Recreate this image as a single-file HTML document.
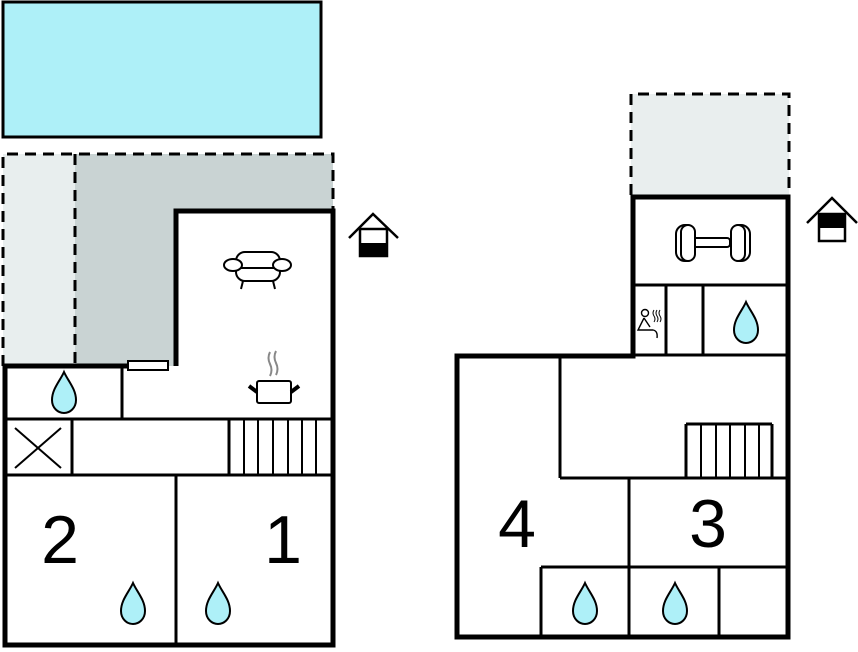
<!DOCTYPE html>
<html><head><style>html,body{margin:0;padding:0;background:#fff}svg{display:block}</style></head><body>
<svg width="858" height="652" viewBox="0 0 858 652" xmlns="http://www.w3.org/2000/svg" font-family="Liberation Sans, Arial, sans-serif">
<defs>
<path id="drop" d="M0,-21 C4,-12 12,-4 12,7 C12,15 6,20 0,20 C-6,20 -12,15 -12,7 C-12,-4 -4,-12 0,-21 Z" fill="#aef0f8" stroke="#000" stroke-width="2"/>
</defs>
<rect x="3" y="2" width="318" height="135" fill="#aef0f8" stroke="#000" stroke-width="3"/>
<rect x="3" y="154" width="72" height="212" fill="#e8eeee"/>
<path d="M75,154 H333 V211 H176 V366 H75 Z" fill="#c9d3d3"/>
<path d="M3,366 V154 H333 V211" fill="none" stroke="#000" stroke-width="3" stroke-dasharray="11,7"/>
<line x1="75" y1="154" x2="75" y2="366" stroke="#000" stroke-width="3" stroke-dasharray="11,7"/>
<path d="M176,366 V211 H333 V645 H5 V366 H128" fill="none" stroke="#000" stroke-width="5"/>
<rect x="128" y="361" width="40" height="9" fill="#fff" stroke="#000" stroke-width="2"/>
<g stroke="#000" stroke-width="3" fill="none">
<line x1="122" y1="366" x2="122" y2="419"/>
<line x1="5" y1="419" x2="333" y2="419"/>
<line x1="5" y1="475" x2="333" y2="475"/>
<line x1="72" y1="419" x2="72" y2="475"/>
<line x1="176" y1="475" x2="176" y2="645"/>
<line x1="15" y1="428" x2="61" y2="468" stroke-width="2"/>
<line x1="61" y1="428" x2="15" y2="468" stroke-width="2"/>
<line x1="229" y1="419" x2="229" y2="475"/>
</g>
<g stroke="#000" stroke-width="2">
<line x1="244" y1="419" x2="244" y2="475"/><line x1="258" y1="419" x2="258" y2="475"/>
<line x1="273" y1="419" x2="273" y2="475"/><line x1="288" y1="419" x2="288" y2="475"/>
<line x1="302" y1="419" x2="302" y2="475"/><line x1="316" y1="419" x2="316" y2="475"/>
</g>
<use href="#drop" x="64" y="393"/>
<use href="#drop" x="133" y="604"/>
<use href="#drop" x="218" y="604"/>
<text x="60" y="563" font-size="68" text-anchor="middle">2</text>
<text x="283" y="563" font-size="68" text-anchor="middle">1</text>
<g stroke="#000" stroke-width="2" fill="#fff">
<rect x="236" y="252" width="44" height="29" rx="9"/>
<line x1="236" y1="268" x2="280" y2="268"/>
<ellipse cx="233" cy="265" rx="9" ry="6"/>
<ellipse cx="282" cy="265" rx="9" ry="6"/>
<line x1="243" y1="281" x2="241" y2="289"/><line x1="273" y1="281" x2="275" y2="289"/>
</g>
<g fill="none">
<path d="M270,352 q-3,6 0,12 q3,6 0,12" stroke="#888" stroke-width="2"/>
<path d="M276,351 q-3,6 0,12 q3,6 0,12" stroke="#888" stroke-width="2"/>
<rect x="257" y="381" width="34" height="22" rx="2" stroke="#000" stroke-width="2" fill="#fff"/>
<line x1="249" y1="386" x2="257" y2="392" stroke="#000" stroke-width="4"/>
<line x1="299" y1="386" x2="291" y2="392" stroke="#000" stroke-width="4"/>
</g>
<path d="M349,238 L373,214 L398,238" fill="none" stroke="#000" stroke-width="2.5"/>
<rect x="360" y="229" width="27" height="27" fill="#fff" stroke="#000" stroke-width="2.5"/>
<rect x="360" y="243" width="27" height="13" fill="#000"/>
<rect x="631" y="94" width="158" height="101" fill="#e9eeee"/>
<path d="M631,195 V94 H789 V195" fill="none" stroke="#000" stroke-width="3" stroke-dasharray="11,7"/>
<path d="M633,197 H788 V637 H457 V356 H633 Z" fill="none" stroke="#000" stroke-width="5"/>
<g stroke="#000" stroke-width="3" fill="none">
<line x1="633" y1="285" x2="788" y2="285"/>
<line x1="666" y1="285" x2="666" y2="355"/>
<line x1="703" y1="285" x2="703" y2="355"/>
<line x1="633" y1="355" x2="788" y2="355"/>
<line x1="560" y1="355" x2="560" y2="478"/>
<line x1="560" y1="478" x2="788" y2="478"/>
<line x1="629" y1="478" x2="629" y2="637"/>
<line x1="541" y1="567" x2="788" y2="567"/>
<line x1="541" y1="567" x2="541" y2="637"/>
<line x1="719" y1="567" x2="719" y2="637"/>
<line x1="686" y1="424" x2="772" y2="424"/>
<line x1="686" y1="424" x2="686" y2="478"/>
<line x1="772" y1="424" x2="772" y2="478"/>
</g>
<g stroke="#000" stroke-width="2">
<line x1="701" y1="424" x2="701" y2="478"/><line x1="716" y1="424" x2="716" y2="478"/>
<line x1="730" y1="424" x2="730" y2="478"/><line x1="745" y1="424" x2="745" y2="478"/>
<line x1="759" y1="424" x2="759" y2="478"/>
</g>
<use href="#drop" x="746" y="323"/>
<use href="#drop" x="585" y="604"/>
<use href="#drop" x="675" y="604"/>
<text x="517" y="547" font-size="68" text-anchor="middle">4</text>
<text x="708" y="547" font-size="68" text-anchor="middle">3</text>
<g stroke="#000" stroke-width="2" fill="#fff">
<rect x="690" y="238" width="40" height="9" rx="3"/>
<rect x="676" y="225" width="19" height="36" rx="9"/>
<rect x="681" y="225" width="14" height="36" rx="7"/>
<rect x="731" y="225" width="19" height="36" rx="9"/>
<rect x="731" y="225" width="14" height="36" rx="7"/>
</g>
<g stroke="#000" stroke-width="1.4" fill="none">
<circle cx="645" cy="313" r="3.5"/>
<path d="M644,318 L638,330 H646 L653,330 Q658,331 657,338 M644,318 L650,327"/>
<path d="M654,310 q-2,3 0,6 q2,3 0,6 M657,310 q-2,3 0,6 q2,3 0,6 M660,310 q-2,3 0,6 q2,3 0,6" stroke-width="1"/>
</g>
<path d="M807,223 L832,198 L857,223" fill="none" stroke="#000" stroke-width="2.5"/>
<rect x="819" y="214" width="26" height="27" fill="#fff" stroke="#000" stroke-width="2.5"/>
<rect x="819" y="214" width="26" height="14" fill="#000"/>
</svg>
</body></html>
